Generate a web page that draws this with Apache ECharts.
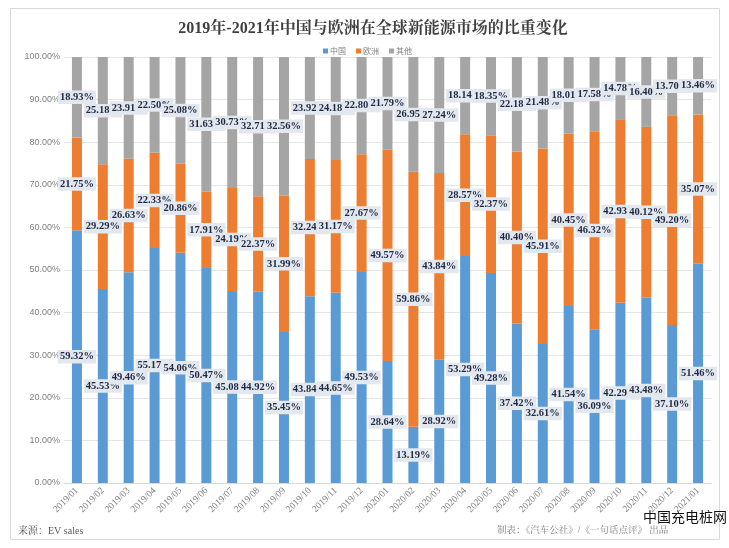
<!DOCTYPE html>
<html>
<head>
<meta charset="utf-8">
<script src="https://cdn.jsdelivr.net/npm/echarts@6/dist/echarts.min.js"></script>
<style>html,body{margin:0;padding:0;background:#fff;}#c{width:729px;height:548px;}</style>
</head>
<body>
<div id="c"></div>
<script>
const categories = ['2019/01','2019/02','2019/03','2019/04','2019/05','2019/06','2019/07','2019/08','2019/09','2019/10','2019/11','2019/12','2020/01','2020/02','2020/03','2020/04','2020/05','2020/06','2020/07','2020/08','2020/09','2020/10','2020/11','2020/12','2021/01'];
const china = [59.32,45.53,49.46,55.17,54.06,50.47,45.08,44.92,35.45,43.84,44.65,49.53,28.64,13.19,28.92,53.29,49.28,37.42,32.61,41.54,36.09,42.29,43.48,37.10,51.46];
const europe = [21.75,29.29,26.63,22.33,20.86,17.91,24.19,22.37,31.99,32.24,31.17,27.67,49.57,59.86,43.84,28.57,32.37,40.40,45.91,40.45,46.32,42.93,40.12,49.20,35.07];
const other = [18.93,25.18,23.91,22.50,25.08,31.63,30.73,32.71,32.56,23.92,24.18,22.80,21.79,26.95,27.24,18.14,18.35,22.18,21.48,18.01,17.58,14.78,16.40,13.70,13.46];
const seriesNames = ['中国','欧洲','其他'];
const title = '2019年-2021年中国与欧洲在全球新能源市场的比重变化';
const sourceText = '来源：EV sales';
const makerText = '制表：《汽车公社》/《一句话点评》 出品';
const watermark = '中国充电桩网';

const chart = echarts.init(document.getElementById('c'));
const serif = '"Liberation Serif","DejaVu Serif","Noto Serif CJK SC","Noto Sans CJK SC",serif';
const lbl = {
  show: true,
  position: 'inside',
  formatter: p => p.value.toFixed(2) + '%',
  fontFamily: serif,
  fontWeight: 'bold',
  fontSize: 10.5,
  color: '#1e2a44',
  backgroundColor: '#e3e7ee',
  padding: [2, 2, 1, 2]
};
const colors = ['#5b9bd5','#ed7d31','#a5a5a5'];
const datas = [china, europe, other];
chart.setOption({
  animation: false,
  backgroundColor: '#fff',
  title: {
    text: title,
    left: 368, top: 16, textAlign: 'center',
    textStyle: {fontFamily: serif, fontWeight: 'bold', fontSize: 16, color: '#404040'}
  },
  legend: {
    data: seriesNames,
    top: 42, left: 318,
    itemWidth: 5, itemHeight: 5, itemGap: 10,
    textStyle: {fontSize: 8, color: '#7f7f7f', fontFamily: '"Noto Sans CJK SC",sans-serif', padding: [0,0,0,-3]},
    icon: 'rect'
  },
  grid: {left: 64, right: 18, top: 57, bottom: 65, containLabel: false},
  xAxis: {
    type: 'category',
    data: categories,
    axisLine: {lineStyle: {color: '#d9d9d9'}},
    axisTick: {show: false},
    axisLabel: {rotate: 45, fontSize: 9.5, color: '#7f7f7f', margin: 6, interval: 0, fontFamily: serif}
  },
  yAxis: {
    type: 'value', min: 0, max: 100, interval: 10,
    axisLabel: {formatter: v => v.toFixed(2) + '%', fontSize: 9, color: '#7f7f7f', margin: 4, fontFamily: '"Liberation Sans Narrow","Liberation Sans",sans-serif'},
    splitLine: {lineStyle: {color: '#e6e6e6'}},
    axisLine: {show: false}, axisTick: {show: false}
  },
  series: seriesNames.map((n, i) => ({
    name: n, type: 'bar', stack: 'total', barWidth: 10,
    itemStyle: {color: colors[i]},
    label: lbl,
    data: datas[i]
  })),
  graphic: [
    {type: 'rect', shape: {x: 10.5, y: 8.5, width: 709, height: 531}, style: {fill: 'none', stroke: '#d9d9d9', lineWidth: 1}, z: -1},
    {type: 'text', left: 18, top: 526, style: {text: sourceText, fontFamily: serif, fontSize: 10, fill: '#595959'}},
    {type: 'text', left: 497, top: 526, style: {text: makerText, fontFamily: serif, fontSize: 9.5, fill: '#7f7f7f'}},
    {type: 'text', left: 643, top: 510, style: {text: watermark, fontFamily: '"Noto Sans CJK SC",sans-serif', fontSize: 14, fill: '#111'}}
  ]
});
</script>
</body>
</html>
